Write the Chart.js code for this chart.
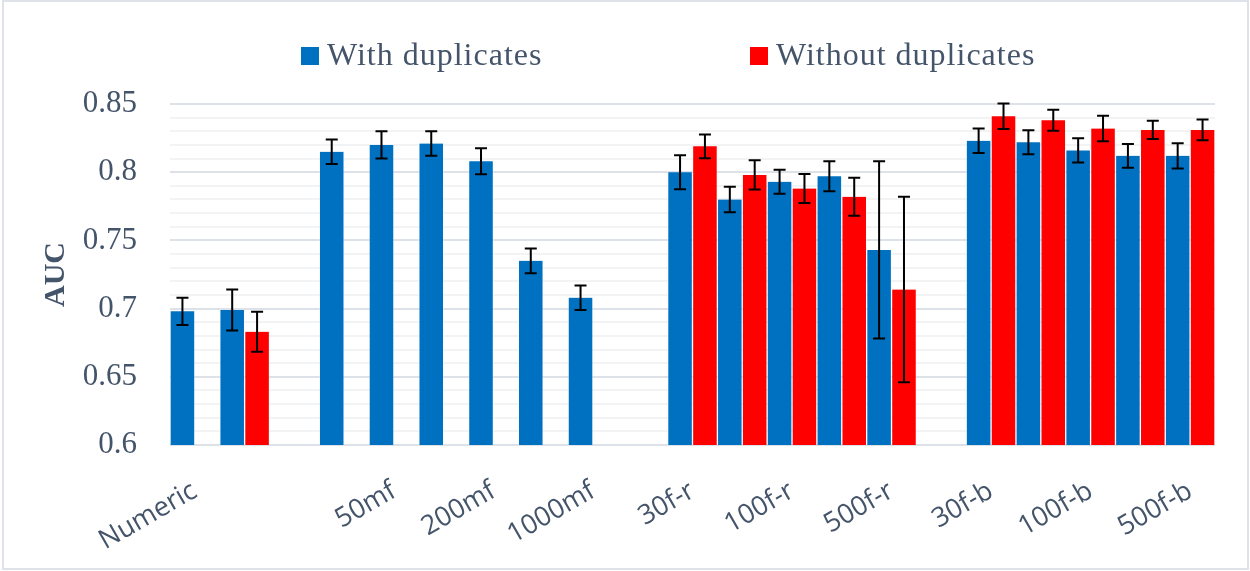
<!DOCTYPE html>
<html>
<head>
<meta charset="utf-8">
<title>AUC with and without duplicates</title>
<script src="https://cdn.jsdelivr.net/npm/chart.js@4.4.1/dist/chart.umd.min.js"></script>
<style>
  html, body { margin: 0; padding: 0; background: #ffffff; }
  canvas { display: block; }
</style>
</head>
<body>
<canvas id="auc" width="1250" height="571"></canvas>
<script>
// Feature-set groups; blank entries are spacer slots or unlabeled columns.
const categories = [
  "Numeric", "", "", "", "50mf", "", "200mf", "", "1000mf", "",
  "30f-r", "", "100f-r", "", "500f-r", "",
  "30f-b", "", "100f-b", "", "500f-b"
];

// Mean AUC and its error (half-width of the bar) per slot.
const withDup = [
  0.698, 0.699, null, 0.815, 0.820, 0.821, 0.808, 0.735, 0.708, null,
  0.800, 0.780, 0.793, 0.797, 0.743, null,
  0.823, 0.822, 0.816, 0.812, 0.812
];
const withDupErr = [
  0.010, 0.015, null, 0.009, 0.010, 0.009, 0.0095, 0.009, 0.009, null,
  0.0125, 0.0093, 0.0088, 0.011, 0.065, null,
  0.009, 0.0088, 0.0088, 0.0087, 0.0093
];
const withoutDup = [
  null, 0.683, null, null, null, null, null, null, null, null,
  0.819, 0.798, 0.788, 0.782, 0.714, null,
  0.841, 0.838, 0.832, 0.831, 0.831
];
const withoutDupErr = [
  null, 0.0147, null, null, null, null, null, null, null, null,
  0.0087, 0.0107, 0.0106, 0.0139, 0.068, null,
  0.0094, 0.0077, 0.0093, 0.0067, 0.0076
];

const seriesNames = ["With duplicates", "Without duplicates"];
const yBounds = [0.6, 0.85];
const yMinorStep = 0.01;
const yMajorEvery = 5; // label every 5th minor step

const TEXT = "#44546A";
const SERIF = "'Liberation Serif', 'Times New Roman', serif";
const SANS = "'Open Sans', 'Liberation Sans', sans-serif";

const isMajor = v => Math.round(v / yMinorStep) % yMajorEvery === 0;

// Thin grey frame around the whole chart.
const frame = {
  id: 'frame',
  beforeDraw(chart) {
    const { ctx, width, height } = chart;
    ctx.save();
    ctx.strokeStyle = '#dfe3e9';
    ctx.lineWidth = 2;
    ctx.strokeRect(3, 1, width - 5, height - 3);
    ctx.restore();
  }
};

// Whiskers drawn on top of every bar from its dataset's `errors` array.
const errorBars = {
  id: 'errorBars',
  afterDatasetsDraw(chart, args, opts) {
    const { ctx } = chart;
    const y = chart.scales.y;
    ctx.save();
    ctx.strokeStyle = opts.color;
    ctx.lineWidth = opts.width;
    ctx.lineCap = 'butt';
    chart.data.datasets.forEach((ds, i) => {
      const meta = chart.getDatasetMeta(i);
      if (meta.hidden) return;
      meta.data.forEach((bar, j) => {
        const v = ds.data[j];
        const e = ds.errors[j];
        if (v == null || e == null) return;
        const x = bar.x;
        const yt = y.getPixelForValue(v + e);
        const yb = y.getPixelForValue(v - e);
        ctx.beginPath();
        ctx.moveTo(x, yt); ctx.lineTo(x, yb);
        ctx.moveTo(x - opts.cap, yt); ctx.lineTo(x + opts.cap, yt);
        ctx.moveTo(x - opts.cap, yb); ctx.lineTo(x + opts.cap, yb);
        ctx.stroke();
      });
    });
    ctx.restore();
  }
};

// Single-row legend above the plot.
const rowLegend = {
  id: 'rowLegend',
  afterDraw(chart, args, opts) {
    const { ctx } = chart;
    ctx.save();
    ctx.font = opts.font;
    ctx.letterSpacing = opts.letterSpacing;
    ctx.textAlign = 'left';
    ctx.textBaseline = 'alphabetic';
    chart.data.datasets.forEach((ds, i) => {
      const x = opts.x[i];
      ctx.fillStyle = ds.backgroundColor;
      ctx.fillRect(x, opts.baseline - opts.box, opts.box, opts.box);
      ctx.fillStyle = opts.color;
      ctx.fillText(ds.label, x + opts.box + opts.gap, opts.baseline);
    });
    ctx.restore();
  }
};

new Chart(document.getElementById('auc'), {
  type: 'bar',
  data: {
    labels: categories,
    datasets: [
      {
        label: seriesNames[0],
        data: withDup,
        errors: withDupErr,
        backgroundColor: '#0070C0',
        borderColor: 'rgba(255,255,255,0.3)',
        borderWidth: { left: 1, right: 1, top: 0, bottom: 0 },
        barPercentage: 1,
        categoryPercentage: 1
      },
      {
        label: seriesNames[1],
        data: withoutDup,
        errors: withoutDupErr,
        backgroundColor: '#FF0000',
        borderColor: 'rgba(255,255,255,0.3)',
        borderWidth: { left: 1, right: 1, top: 0, bottom: 0 },
        barPercentage: 1,
        categoryPercentage: 1
      }
    ]
  },
  options: {
    responsive: false,
    animation: false,
    devicePixelRatio: 1,
    layout: { padding: { top: 104, right: 35, bottom: 0, left: 0 } },
    plugins: {
      legend: { display: false },
      tooltip: { enabled: false },
      errorBars: { color: '#000000', width: 2, cap: 6 },
      rowLegend: {
        font: `32px ${SERIF}`,
        letterSpacing: '1px',
        color: TEXT,
        x: [301, 750],
        baseline: 65,
        box: 18,
        gap: 8
      }
    },
    scales: {
      x: {
        grid: { display: false },
        border: { display: false },
        ticks: {
          autoSkip: false,
          minRotation: 30,
          maxRotation: 30,
          padding: 22,
          color: TEXT,
          font: { family: SANS, size: 27 },
          callback(value, index) {
            return index % 2 === 0 ? categories[index] : '';
          }
        },
        afterFit(scale) { scale.height = 126; }
      },
      y: {
        min: yBounds[0],
        max: yBounds[1],
        border: { display: false },
        grid: {
          drawTicks: false,
          lineWidth: 2,
          color: c => isMajor(c.tick.value) ? '#dde2e9' : '#f1f3f5'
        },
        ticks: {
          stepSize: yMinorStep,
          autoSkip: false,
          padding: 33,
          color: TEXT,
          font: { family: SERIF, size: 31 },
          callback(value) {
            if (!isMajor(value)) return '';
            return String(Math.round(value * 100) / 100);
          }
        },
        title: {
          display: true,
          text: 'AUC',
          color: TEXT,
          font: { family: SERIF, size: 30, weight: 'bold' },
          padding: { top: 38, bottom: 0 }
        },
        afterFit(scale) { scale.width = 170; }
      }
    }
  },
  plugins: [frame, errorBars, rowLegend]
});
</script>
</body>
</html>
